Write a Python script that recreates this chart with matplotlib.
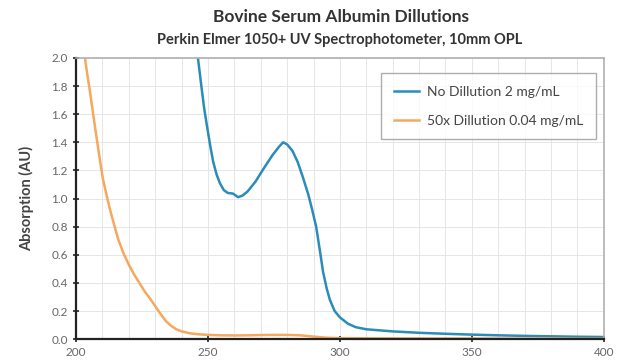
import numpy as np
import matplotlib.pyplot as plt
from matplotlib.ticker import MultipleLocator

plt.rcParams['font.family'] = ['Lato', 'DejaVu Sans']

# spectra (wavelength nm, absorbance AU)
nm_full = [245.5, 246.2, 247.5, 248.5, 249.6, 251, 252, 253.3, 254.5, 256, 257.5,
           259.5, 261.4, 263, 265, 268, 271, 274.5, 277, 278.5, 280, 282, 284,
           286, 288, 289.5, 291, 292.5, 293.6, 295, 296.2, 298, 300, 303, 306,
           310, 320, 330, 340, 350, 360, 370, 380, 390, 400]
abs_full = [2.05, 2.0, 1.8, 1.65, 1.52, 1.36, 1.26, 1.17, 1.11, 1.06, 1.04,
            1.035, 1.01, 1.02, 1.05, 1.12, 1.21, 1.31, 1.37, 1.40, 1.385, 1.34, 1.26,
            1.15, 1.03, 0.92, 0.80, 0.62, 0.48, 0.36, 0.28, 0.20, 0.155, 0.11, 0.085,
            0.07, 0.055, 0.045, 0.038, 0.032, 0.027, 0.023, 0.02, 0.017, 0.015]

nm_dil = [202.8, 203.4, 204.3, 205.3, 206.5, 207.9, 209, 210.2, 211.5, 212.9, 214.5,
          216, 218, 220, 222, 224, 226, 228, 230, 232, 234, 236, 238, 240, 243,
          246, 250, 255, 260, 265, 270, 275, 280, 285, 290, 295, 300, 320, 350, 400]
abs_dil = [2.05, 2.0, 1.88, 1.76, 1.6, 1.42, 1.28, 1.14, 1.03, 0.92, 0.81,
           0.71, 0.61, 0.53, 0.46, 0.40, 0.34, 0.29, 0.235, 0.18, 0.13, 0.095, 0.07, 0.055, 0.042,
           0.035, 0.03, 0.027, 0.026, 0.027, 0.029, 0.03, 0.03, 0.027, 0.018, 0.01, 0.007, 0.005, 0.004, 0.003]

fig = plt.figure(figsize=(6.18, 3.6), dpi=100)
ax = fig.add_axes([0.123, 0.058, 0.854, 0.781])

ax.plot(nm_full, abs_full, color='#2b8cba', lw=1.8, label='No Dillution 2 mg/mL')
ax.plot(nm_dil, abs_dil, color='#f5a85e', lw=1.8, label='50x Dillution 0.04 mg/mL')

ax.set_xlim(200, 400)
ax.set_ylim(0, 2.0)
ax.xaxis.set_major_locator(MultipleLocator(50))
ax.xaxis.set_minor_locator(MultipleLocator(10))
ax.yaxis.set_major_locator(MultipleLocator(0.2))
ax.yaxis.set_major_formatter(plt.FuncFormatter(lambda v, p: f'{v:.1f}'))
ax.grid(which='both', axis='x', color='#e6e6e6', lw=0.7)
ax.grid(which='major', axis='y', color='#e6e6e6', lw=0.7)
ax.tick_params(axis='x', which='minor', length=0)
ax.tick_params(axis='both', which='major', direction='inout', length=5, width=1.2,
               colors='#222222', labelcolor='#666666', labelsize=8.5)
ax.set_axisbelow(True)

for s in ['top', 'right']:
    ax.spines[s].set_color('#b0b0b0')
    ax.spines[s].set_linewidth(1.2)
for s in ['left', 'bottom']:
    ax.spines[s].set_color('#222222')
    ax.spines[s].set_linewidth(1.6)

ax.set_ylabel('Absorption (AU)', fontsize=10.5, fontweight='bold', color='#444444', labelpad=12)

leg = ax.legend(loc='upper right', bbox_to_anchor=(0.985, 0.945), fontsize=10,
                frameon=True, fancybox=False, edgecolor='#999999', labelspacing=1.2,
                handlelength=1.8, handletextpad=0.6, borderpad=0.9, borderaxespad=0)
leg.get_frame().set_linewidth(1.0)
for t in leg.get_texts():
    t.set_color('#444444')

fig.text(0.551, 0.952, 'Bovine Serum Albumin Dillutions', ha='center', va='center',
         fontsize=12.5, fontweight='bold', color='#333333')
fig.text(0.550, 0.888, 'Perkin Elmer 1050+ UV Spectrophotometer, 10mm OPL', ha='center', va='center',
         fontsize=10.5, fontweight='bold', color='#333333')

fig.savefig('out.png', dpi=100)
